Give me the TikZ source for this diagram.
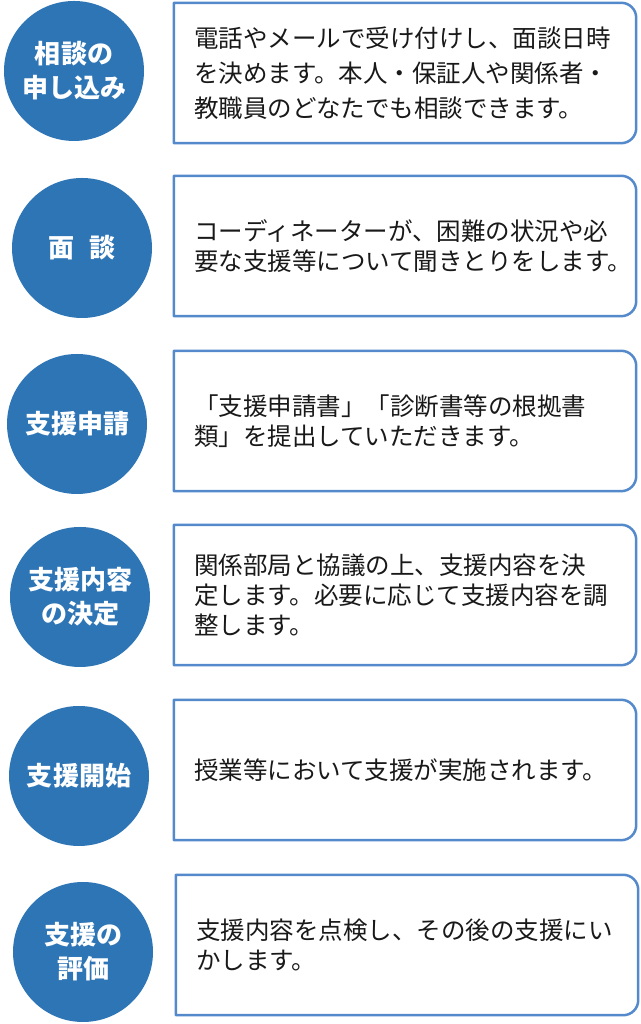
\documentclass[tikz,border=0pt]{standalone}
\usepackage{fontspec}
\setmainfont{Noto Sans CJK JP}
\usepackage{tikz}
\usetikzlibrary{calc}

\definecolor{ballblue}{RGB}{46,117,182}
\definecolor{edgeblue}{RGB}{84,138,204}
\definecolor{inkgray}{RGB}{25,25,25}

\tikzset{
  ball/.style={circle, fill=ballblue, text=white, minimum size=140pt, inner sep=0pt,
    align=center, font=\fontsize{26}{34}\selectfont\bfseries},
  card/.style={rectangle, minimum width=462pt, minimum height=140pt, inner xsep=20pt,
    inner ysep=0pt, text width=422pt, align=left, text=inkgray,
    font=\fontsize{24.5}{30}\selectfont},
  cardline/.style={draw=edgeblue, line width=2.5pt, line join=round}
}

\begin{document}
\begin{tikzpicture}[x=1pt, y=1pt]
\pgfmathsetmacro{\r}{15} % corner radius of the cards
\fill[white] (0,0) rectangle (640,1024);
\useasboundingbox (0,0) rectangle (640,1024);
\node[ball] (s1) at (74,953) {相談の\\申し込み};
\node[ball] (s2) at (82,776) {面\hspace{0.6em}談};
\node[ball] (s3) at (77,600) {支援申請};
\node[ball] (s4) at (80,427) {支援内容\\の決定};
\node[ball] (s5) at (79,248) {支援開始};
\node[ball] (s6) at (83,72) {支援の\\評価};
\node[card, font=\fontsize{24.5}{35}\selectfont] (b1) at (405,951) {電話やメールで受け付けし、面談日時\\を決めます。本人・保証人や関係者・\\教職員のどなたでも相談できます。};
\node[card] (b2) at (405,778) {コーディネーターが、困難の状況や必\\要な支援等について聞きとりをします。};
\node[card] (b3) at (405,603) {「支援申請書」「診断書等の根拠書\\類」を提出していただきます。};
\node[card] (b4) at (405,429) {関係部局と協議の上、支援内容を決\\定します。必要に応じて支援内容を調\\整します。};
\node[card] (b5) at (405,254) {授業等において支援が実施されます。};
\node[card] (b6) at (407,79) {支援内容を点検し、その後の支援にい\\かします。};
\foreach \b in {b1,b2,b3,b4,b5,b6}
  \draw[cardline] (\b.south west) -- (\b.north west) -- ([xshift=-\r]\b.north east)
    arc[start angle=90, end angle=0, radius=\r] -- ([yshift=\r]\b.south east)
    arc[start angle=0, end angle=-90, radius=\r] -- cycle;
\end{tikzpicture}
\end{document}
